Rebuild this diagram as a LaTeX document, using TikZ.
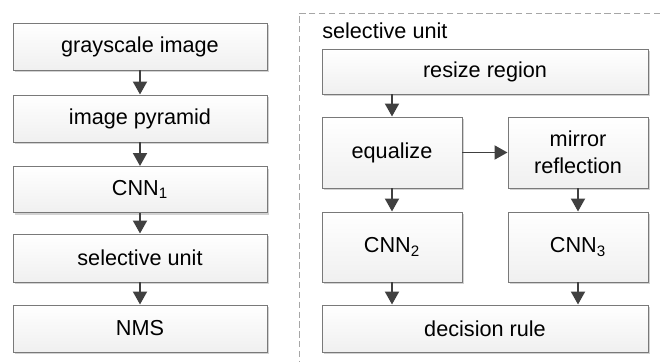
\documentclass[tikz,border=0pt]{standalone}
\usepackage{fontspec}
\setmainfont{Liberation Sans}
\usetikzlibrary{
	arrows.meta,
	positioning,
	shadows
}

\begin{document}
\begin{tikzpicture}[x=0.025cm,y=-0.025cm,>=Stealth,
		box/.style={draw=gray!95!black, line width=0.7pt, rectangle, top color=white, bottom color=gray!12,
			drop shadow={shadow xshift=1.6pt, shadow yshift=-1.6pt, fill=gray!35, opacity=1},
			align=center, inner sep=0pt, font=\fontsize{15.4}{19}\selectfont},
		arr/.style={-{Triangle[width=14*0.025cm,length=13*0.025cm]}, draw=black!75, fill=black!75, line width=1.4pt}]
		\def \px{0.025cm}
		\useasboundingbox (0,0) rectangle (660,362);
		
		% left column
		\node[box, minimum width=254*\px, minimum height=47*\px] (gray) at (140,46.5) {grayscale image};
		\node[box, minimum width=254*\px, minimum height=47*\px] (pyr) at (140,118.5) {image pyramid};
		\node[box, minimum width=254*\px, minimum height=46*\px] (cnnA) at (140,189.5) {CNN\textsubscript{1}};
		\node[box, minimum width=254*\px, minimum height=48*\px] (sel) at (140,258) {selective unit};
		\node[box, minimum width=254*\px, minimum height=47*\px] (nms) at (140,328.5) {NMS};
		
		\draw[arr] (gray) -- (pyr);
		\draw[arr] (pyr) -- (cnnA);
		\draw[arr] (cnnA) -- (sel);
		\draw[arr] (sel) -- (nms);
		
		% selective unit frame
		\draw[gray!70, line width=0.7pt, dash pattern=on 4.5pt off 2.5pt] (660,13) -- (299,13) -- (299,362);
		\node[anchor=west, inner sep=0pt, font=\fontsize{15.4}{19}\selectfont] (title) at (322,31) {selective unit};
		
		\node[box, minimum width=326*\px, minimum height=45*\px] (resize) at (485,71.5) {resize region};
		\node[box, minimum width=140*\px, minimum height=71*\px] (equ) at (392,152.5) {equalize};
		\node[box, minimum width=140*\px, minimum height=71*\px] (mirror) at (578,152.5) {mirror\\reflection};
		\node[box, minimum width=140*\px, minimum height=70*\px] (cnnB) at (392,247) {CNN\textsubscript{2}};
		\node[box, minimum width=140*\px, minimum height=70*\px] (cnnC) at (578,247) {CNN\textsubscript{3}};
		\node[box, minimum width=326*\px, minimum height=47*\px] (rule) at (485,328.5) {decision rule};
		
		% Arrows
		\draw[arr] (equ.north |- resize.south) -- (equ.north);
		\draw[arr] (equ) -- (mirror);
		\draw[arr] (equ) -- (cnnB);
		\draw[arr] (mirror) -- (cnnC);
		\draw[arr] (cnnB.south) -- (cnnB.south |- rule.north);
		\draw[arr] (cnnC.south) -- (cnnC.south |- rule.north);
		
	\end{tikzpicture}
\end{document}
